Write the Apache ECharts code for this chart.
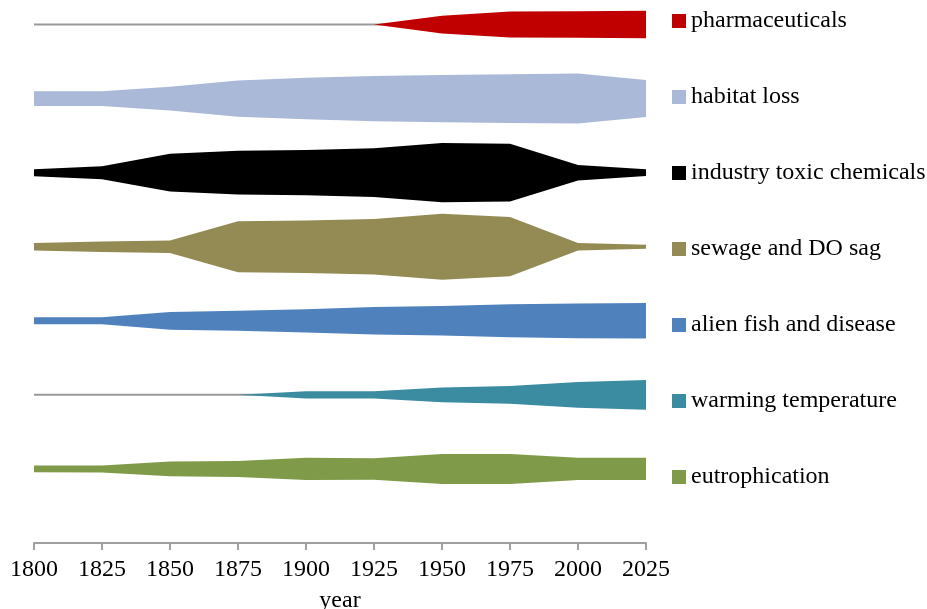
<!DOCTYPE html>
<html>
<head>
<meta charset="utf-8">
<script src="https://cdn.jsdelivr.net/npm/echarts@6/dist/echarts.min.js"></script>
<style>
html,body{margin:0;padding:0;background:#fff;}
#c{width:927px;height:609px;}
</style>
</head>
<body>
<div id="c"></div>
<script>
// ---- data ----
const years = ['1800', '1825', '1850', '1875', '1900', '1925', '1950', '1975', '2000', '2025'];
const bandNames = ['pharmaceuticals', 'habitat loss', 'industry toxic chemicals', 'sewage and DO sag',
                   'alien fish and disease', 'warming temperature', 'eutrophication'];
// band thickness (relative intensity) per year; band spacing = 10 units
const pharmaceuticals = [0, 0, 0, 0, 0, 0, 2.4, 3.5, 3.6, 3.7];
const habitatLoss     = [2.0, 2.0, 3.2, 4.9, 5.6, 6.1, 6.4, 6.6, 6.75, 5.0];
const industryToxic   = [0.95, 1.75, 5.1, 5.9, 6.1, 6.6, 8.0, 7.8, 2.1, 0.9];
const sewageDOSag     = [1.0, 1.4, 1.7, 6.9, 7.1, 7.5, 8.9, 8.0, 1.0, 0.55];
const alienFish       = [0.95, 0.95, 2.4, 2.7, 3.15, 3.7, 4.0, 4.45, 4.7, 4.8];
const warmingTemp     = [0, 0, 0, 0, 0.95, 0.95, 2.0, 2.4, 3.45, 4.0];
const eutrophication  = [0.9, 0.95, 2.0, 2.15, 3.0, 2.9, 4.05, 4.05, 3.0, 3.0];
const bandValues = [pharmaceuticals, habitatLoss, industryToxic, sewageDOSag, alienFish, warmingTemp, eutrophication];

// ---- styles ----
const bandColors = ['#C00000', '#AAB9D7', '#000000', '#948A54', '#4F81BD', '#3B8BA1', '#7F9A48'];
const FONT = '"Liberation Serif", "Times New Roman", serif';

const series = [];
bandNames.forEach((name, i) => {
  const center = (bandNames.length - i) * 10;
  const w = bandValues[i];
  // center baseline (gray)
  series.push({
    name: name + ' baseline', type: 'line', silent: true, showSymbol: false, symbol: 'none',
    data: years.map(() => center),
    lineStyle: { color: '#9a9a9a', width: 2 }, z: 1
  });
  // invisible lower edge
  series.push({
    name: name + ' lower', type: 'line', stack: 'band' + i, silent: true, showSymbol: false, symbol: 'none',
    data: w.map(v => center - v / 2),
    lineStyle: { opacity: 0 }, z: 2
  });
  // visible band
  series.push({
    name: name, type: 'line', stack: 'band' + i, silent: true, showSymbol: false, symbol: 'none',
    data: w.slice(),
    itemStyle: { color: bandColors[i] },
    lineStyle: { color: bandColors[i], width: 0, opacity: 0 },
    areaStyle: { color: bandColors[i], opacity: 1 },
    z: 3
  });
});

const chart = echarts.init(document.getElementById('c'), null, { renderer: 'canvas' });
chart.setOption({
  animation: false,
  backgroundColor: '#ffffff',
  grid: { left: 34, right: 281, top: 6, bottom: 66, outerBoundsMode: 'none', containLabel: false },
  legend: {
    orient: 'vertical', left: 667, top: 4,
    icon: 'rect', itemWidth: 14, itemHeight: 14, itemGap: 52,
    selectedMode: false,
    data: bandNames.map((n, i) => ({ name: n, itemStyle: { color: bandColors[i] } })),
    textStyle: { fontFamily: FONT, fontSize: 24, color: '#000' }
  },
  xAxis: {
    type: 'category', data: years, boundaryGap: false,
    name: 'year', nameLocation: 'middle', nameGap: 46,
    nameTextStyle: { fontFamily: FONT, fontSize: 24, color: '#000' },
    axisLine: { show: true, lineStyle: { color: '#a0a0a0', width: 2 } },
    axisTick: { show: true, length: 7, alignWithLabel: true, lineStyle: { color: '#a0a0a0', width: 2 } },
    axisLabel: { fontFamily: FONT, fontSize: 24, color: '#000', margin: 15, interval: 0 },
    splitLine: { show: false }
  },
  yAxis: {
    type: 'value', min: 0, max: 72.5, show: false,
    splitLine: { show: false }
  },
  series: series
});
</script>
</body>
</html>
